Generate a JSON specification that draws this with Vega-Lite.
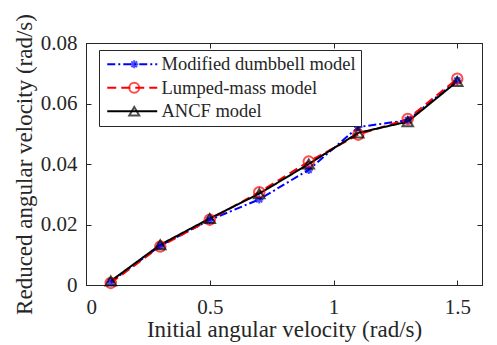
{
  "$schema": "https://vega.github.io/schema/vega-lite/v6.json",
  "width": 396,
  "height": 242,
  "autosize": "none",
  "padding": {"left": 86, "top": 43, "right": 15, "bottom": 60},
  "background": "white",
  "config": {
    "view": {"stroke": "#262626", "strokeWidth": 1},
    "font": "Liberation Serif",
    "axis": {
      "labelFont": "Liberation Serif", "titleFont": "Liberation Serif",
      "labelFontSize": 21, "titleFontSize": 23, "titleFontWeight": "normal",
      "labelColor": "#262626", "titleColor": "#262626",
      "domainColor": "#262626", "tickColor": "#262626",
      "grid": false, "tickSize": -5
    },
    "legend": {"labelFont": "Liberation Serif", "labelFontSize": 18.5, "labelColor": "#262626", "labelLimit": 400}
  },
  "data": {
    "values": [
      {"x": 0.1, "y": 0.0010, "model": "Modified dumbbell model"},
      {"x": 0.3, "y": 0.0130, "model": "Modified dumbbell model"},
      {"x": 0.5, "y": 0.0215, "model": "Modified dumbbell model"},
      {"x": 0.7, "y": 0.0283, "model": "Modified dumbbell model"},
      {"x": 0.9, "y": 0.0381, "model": "Modified dumbbell model"},
      {"x": 1.1, "y": 0.0522, "model": "Modified dumbbell model"},
      {"x": 1.3, "y": 0.0545, "model": "Modified dumbbell model"},
      {"x": 1.5, "y": 0.0676, "model": "Modified dumbbell model"},
      {"x": 0.1, "y": 0.0007, "model": "Lumped-mass model"},
      {"x": 0.3, "y": 0.0127, "model": "Lumped-mass model"},
      {"x": 0.5, "y": 0.0216, "model": "Lumped-mass model"},
      {"x": 0.7, "y": 0.0307, "model": "Lumped-mass model"},
      {"x": 0.9, "y": 0.0408, "model": "Lumped-mass model"},
      {"x": 1.1, "y": 0.0497, "model": "Lumped-mass model"},
      {"x": 1.3, "y": 0.0549, "model": "Lumped-mass model"},
      {"x": 1.5, "y": 0.0682, "model": "Lumped-mass model"},
      {"x": 0.1, "y": 0.0013, "model": "ANCF model"},
      {"x": 0.3, "y": 0.0133, "model": "ANCF model"},
      {"x": 0.5, "y": 0.0220, "model": "ANCF model"},
      {"x": 0.7, "y": 0.0302, "model": "ANCF model"},
      {"x": 0.9, "y": 0.0400, "model": "ANCF model"},
      {"x": 1.1, "y": 0.0503, "model": "ANCF model"},
      {"x": 1.3, "y": 0.0540, "model": "ANCF model"},
      {"x": 1.5, "y": 0.0673, "model": "ANCF model"}
    ]
  },
  "layer": [
    {
      "mark": {"type": "line", "strokeWidth": 2},
      "encoding": {
        "x": {"field": "x", "type": "quantitative", "scale": {"domain": [0, 1.5]},
          "axis": {"orient": "bottom", "values": [0, 0.5, 1, 1.5], "format": "~g", "title": "Initial angular velocity (rad/s)", "labelPadding": 16.5, "titlePadding": 1}},
        "y": {"field": "y", "type": "quantitative", "scale": {"domain": [0, 0.08]},
          "axis": {"orient": "left", "values": [0, 0.02, 0.04, 0.06, 0.08], "format": ".2~f", "title": "Reduced angular velocity (rad/s)", "labelPadding": 14, "titlePadding": 4}},
        "color": {"field": "model", "type": "nominal",
          "scale": {"domain": ["Modified dumbbell model", "Lumped-mass model", "ANCF model"], "range": ["#0000FF", "#FF0000", "#000000"]},
          "legend": {"orient": "none", "legendX": 13, "legendY": 7, "title": null, "fillColor": "white", "strokeColor": "#262626", "padding": 5, "symbolType": "M-3.57,0H3.57", "symbolSize": 196, "symbolStrokeWidth": 2, "symbolOffset": 19, "labelOffset": 20, "rowPadding": 4.5, "zindex": 1}},
        "strokeDash": {"field": "model", "type": "nominal",
          "scale": {"domain": ["Modified dumbbell model", "Lumped-mass model", "ANCF model"], "range": [[8, 3, 2, 3], [9, 5], [1, 0]]},
          "legend": {"orient": "none", "legendX": 13, "legendY": 7, "title": null, "fillColor": "white", "strokeColor": "#262626", "padding": 5, "symbolType": "M-3.57,0H3.57", "symbolSize": 196, "symbolStrokeWidth": 2, "symbolOffset": 19, "labelOffset": 20, "rowPadding": 4.5, "zindex": 1}}
      }
    },
    {
      "mark": {"type": "point", "filled": false, "size": 110, "strokeWidth": 2},
      "encoding": {
        "x": {"field": "x", "type": "quantitative", "axis": {"orient": "top", "labels": false, "title": null, "values": [0, 0.5, 1, 1.5]}},
        "y": {"field": "y", "type": "quantitative", "axis": {"orient": "right", "labels": false, "title": null, "values": [0, 0.02, 0.04, 0.06, 0.08]}},
        "stroke": {"field": "model", "type": "nominal",
          "scale": {"domain": ["ANCF model", "Lumped-mass model", "Modified dumbbell model"], "range": ["#000000", "#FF0000", "#0000FF"]},
          "legend": {"orient": "none", "legendX": 13, "legendY": 7, "title": null, "padding": 5, "symbolOffset": 21, "labelOpacity": 0, "rowPadding": 4.5, "symbolStrokeWidth": 2, "zindex": 2, "values": ["Modified dumbbell model", "Lumped-mass model", "ANCF model"]}},
        "shape": {"field": "model", "type": "nominal",
          "scale": {"domain": ["ANCF model", "Lumped-mass model", "Modified dumbbell model"], "range": ["triangle-up", "circle", "M-0.8,0H0.8M0,-0.8V0.8M-0.57,-0.57L0.57,0.57M-0.57,0.57L0.57,-0.57"]},
          "legend": {"orient": "none", "legendX": 13, "legendY": 7, "title": null, "padding": 5, "symbolOffset": 21, "labelOpacity": 0, "rowPadding": 4.5, "symbolStrokeWidth": 2, "zindex": 2, "values": ["Modified dumbbell model", "Lumped-mass model", "ANCF model"]}}
      }
    }
  ]
}
